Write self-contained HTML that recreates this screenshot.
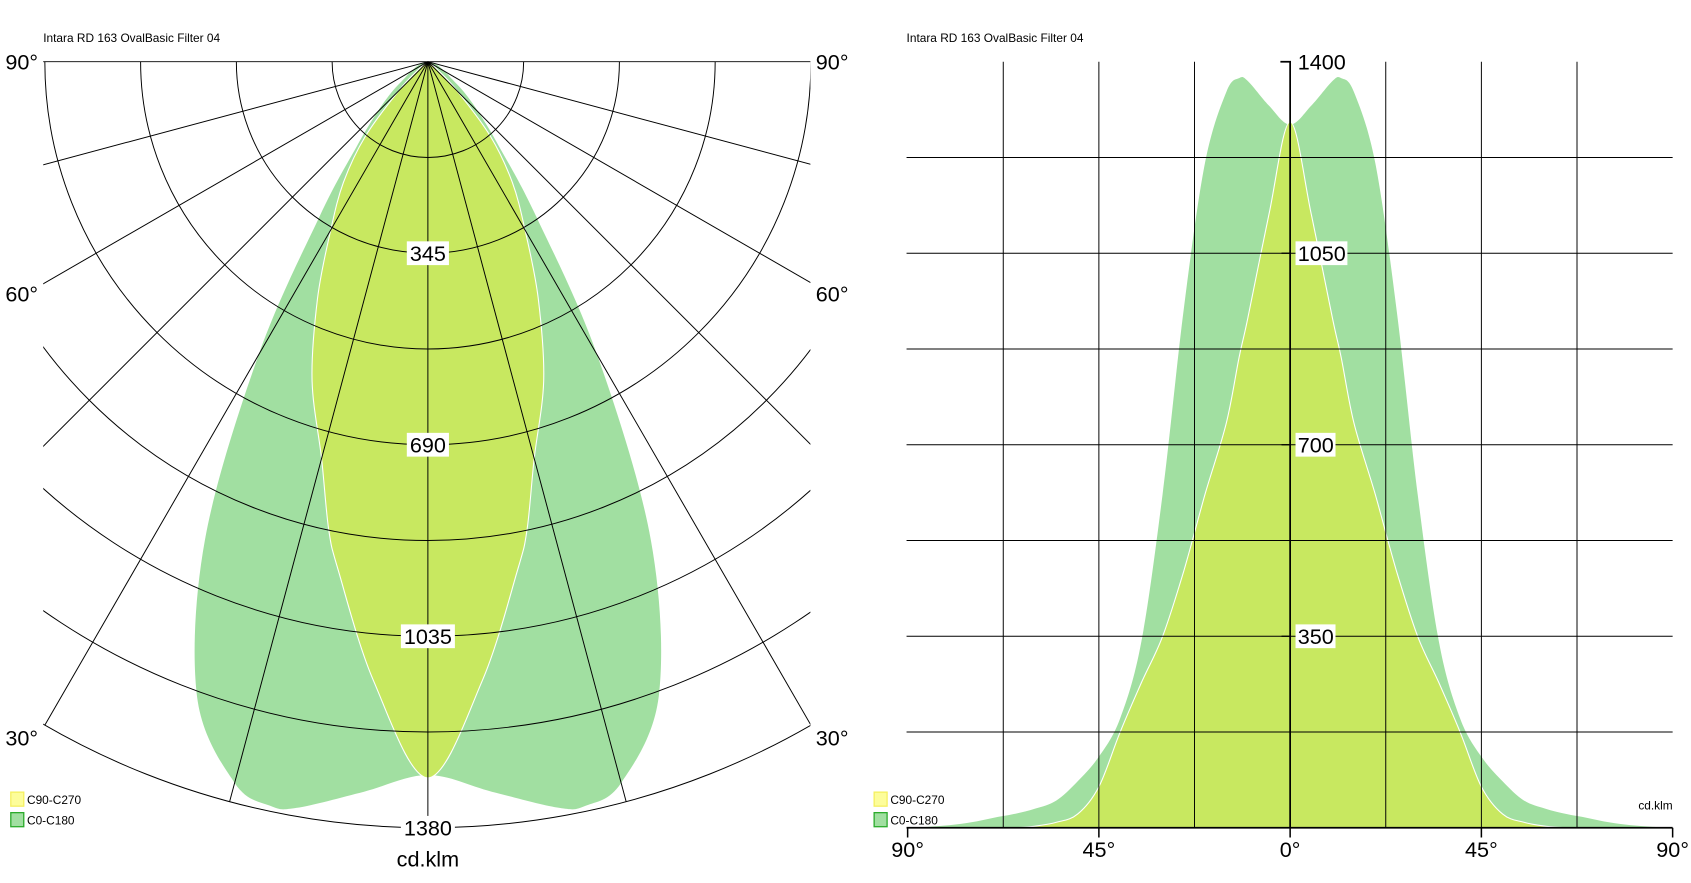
<!DOCTYPE html>
<html><head><meta charset="utf-8"><style>
html,body{margin:0;padding:0;background:#fff;}
svg{display:block;font-family:"Liberation Sans",sans-serif;}
</style></head><body>
<svg id="chart" width="1691" height="883" viewBox="0 0 1565 817" xmlns="http://www.w3.org/2000/svg">
<defs>
<clipPath id="pclip"><rect x="40" y="40" width="710" height="760"/></clipPath>
</defs>
<g id="polar"></g>
<g id="cart"></g>
</svg>
<script>
const angles=[0,5,10,12,15,20,25,30,35,40,45,50,55,60,65,70,75,80,85,90];
const c0c180=[1285,1320,1365,1370,1345,1216,950,610,340,200,130,85,50,35,25,18,10,5,2,0];
const c90c270=[1290,1120,930,860,740,610,470,350,265,175,75,25,10,3,0,0,0,0,0,0];
const polarRingLabels=["345","690","1035","1380"];
const polarRingValues=[345,690,1035,1380];
const cartYLabels=["1400","1050","700","350"];
const cartYValues=[1400,1050,700,350];
const cartXLabels=["90°","45°","0°","45°","90°"];
const cartXValues=[-90,-45,0,45,90];

const NS="http://www.w3.org/2000/svg";
function mk(parent,tag,attrs,text){const e=document.createElementNS(NS,tag);for(const k in attrs)e.setAttribute(k,attrs[k]);if(text!==undefined)e.textContent=text;parent.appendChild(e);return e;}
const GREEN="#a1dfa1",YEL="#c8e860";
function smooth(pts,closed){
  let d="M"+pts[0][0].toFixed(1)+","+pts[0][1].toFixed(1);
  const n=pts.length;
  for(let i=0;i<n-1;i++){
    const p0=pts[Math.max(0,i-1)],p1=pts[i],p2=pts[i+1],p3=pts[Math.min(n-1,i+2)];
    const c1=[p1[0]+(p2[0]-p0[0])/6,p1[1]+(p2[1]-p0[1])/6];
    const c2=[p2[0]-(p3[0]-p1[0])/6,p2[1]-(p3[1]-p1[1])/6];
    d+=`C${c1[0].toFixed(1)},${c1[1].toFixed(1)} ${c2[0].toFixed(1)},${c2[1].toFixed(1)} ${p2[0].toFixed(1)},${p2[1].toFixed(1)}`;
  }
  return d;
}

// ---------- polar ----------
const P=document.getElementById('polar');
const cx=396,cy=57,pscale=709/1380;
const pr=v=>v*pscale;
function polarPath(vals){
  let pts=[];
  for(let i=angles.length-1;i>=0;i--){const a=angles[i]*Math.PI/180,r=pr(vals[i]);pts.push([cx-r*Math.sin(a),cy+r*Math.cos(a)]);}
  for(let i=1;i<angles.length;i++){const a=angles[i]*Math.PI/180,r=pr(vals[i]);pts.push([cx+r*Math.sin(a),cy+r*Math.cos(a)]);}
  return smooth(pts)+"Z";
}
const pg=mk(P,'g',{'clip-path':'url(#pclip)'});
const g1=mk(pg,'path',{d:polarPath(c0c180),fill:GREEN});


const y1=mk(pg,'path',{d:polarPath(c90c270),fill:YEL,stroke:'#fff','stroke-width':1});


for(let k=1;k<=8;k++){
  const r=pr(1380*k/8);
  const c=mk(pg,'path',{d:`M${cx-r},${cy} A${r},${r} 0 0 0 ${cx+r},${cy}`,fill:'none',stroke:'#000','stroke-width':0.9});
  
  
}
for(let d=-90;d<=90;d+=15){
  const a=d*Math.PI/180,R=pr(1380);
  const l=mk(pg,'line',{x1:cx,y1:cy,x2:cx+R*Math.sin(a),y2:cy+R*Math.cos(a),stroke:'#000','stroke-width':0.9});
  
  
}
polarRingValues.forEach((v,i)=>{
  const y=cy+pr(v);
  const w=polarRingLabels[i].length*11+6;
  const b=mk(P,'rect',{x:cx-w/2,y:y-11,width:w,height:22,fill:'#fff'});
  
  
  const t=mk(P,'text',{x:cx,y:y+7,'font-size':20,'text-anchor':'middle',fill:'#000'},polarRingLabels[i]);
  
  
});
[["90°",57],["60°",272],["30°",683]].forEach(([s,y])=>{
  const a=mk(P,'text',{x:5,y:y+7,'font-size':20,fill:'#000'},s);
  
  
  const b=mk(P,'text',{x:755,y:y+7,'font-size':20,fill:'#000'},s);
  
  
});
const u1=mk(P,'text',{x:396,y:802,'font-size':20,'text-anchor':'middle'},"cd.klm");


const t1=mk(P,'text',{x:40,y:39,'font-size':11},"Intara RD 163 OvalBasic Filter 04");



function legend(parent,x,pref){
  const items=[["C90-C270","#fdfd9a","#f5f060",733],["C0-C180",GREEN,"#2bab2b",752]];
  items.forEach(([s,f,st,y])=>{
    const r=mk(parent,'rect',{x:x,y:y,width:12,height:13,fill:f,stroke:st,'stroke-width':1.2});
    
    
    const t=mk(parent,'text',{x:x+15,y:y+11,'font-size':11},s);
    
    
  });
}
legend(P,10,'polar');

// ---------- cartesian ----------
const C=document.getElementById('cart');
const x0=839,x1=1548,yb=766,yt=57;
const xs=a=>1194+a*(x1-1194)/90;
const ys=v=>yb-v*(yb-yt)/1400;
function cartPath(vals){
  let pts=[];
  for(let i=angles.length-1;i>=0;i--)pts.push([xs(-angles[i]),ys(vals[i])]);
  for(let i=1;i<angles.length;i++)pts.push([xs(angles[i]),ys(vals[i])]);
  return smooth(pts)+`L${xs(90)},${yb}L${xs(-90)},${yb}Z`;
}
const g2=mk(C,'path',{d:cartPath(c0c180),fill:GREEN});


const y2=mk(C,'path',{d:cartPath(c90c270),fill:YEL,stroke:'#fff','stroke-width':1});


for(let k=1;k<8;k++){
  const y=yb-k*(yb-yt)/8;
  const l=mk(C,'line',{x1:x0,y1:y,x2:x1,y2:y,stroke:'#000','stroke-width':0.9});
  
  
}
for(let a=-67.5;a<=67.5;a+=22.5){
  if(a===0)continue;
  const l=mk(C,'line',{x1:xs(a),y1:yt,x2:xs(a),y2:yb,stroke:'#000','stroke-width':0.9});
  
  
}
const ya=mk(C,'path',{d:`M1185,${yt}H1194V${yb}`,fill:'none',stroke:'#000','stroke-width':1.6});


const xa=mk(C,'line',{x1:x0,y1:yb,x2:x1,y2:yb,stroke:'#000','stroke-width':1.6});


cartYValues.forEach((v,i)=>{
  const y=ys(v);
  const w=cartYLabels[i].length*11+4;
  if(i>0){const b=mk(C,'rect',{x:1199,y:y-11,width:w,height:22,fill:'#fff'});
  
  
  const tk=mk(C,'line',{x1:1186,y1:y,x2:1194,y2:y,stroke:'#000','stroke-width':1.2});
  
  }
  const t=mk(C,'text',{x:1201,y:y+7,'font-size':20},cartYLabels[i]);
  
  
});
cartXValues.forEach((a,i)=>{
  const x=xs(a);
  const tk=mk(C,'line',{x1:x,y1:yb,x2:x,y2:yb+9,stroke:'#000','stroke-width':1.4});
  
  
  const t=mk(C,'text',{x:x,y:yb+27,'font-size':20,'text-anchor':'middle'},cartXLabels[i]);
  
  
});
const u2=mk(C,'text',{x:1548,y:749,'font-size':11,'text-anchor':'end'},"cd.klm");


const t2=mk(C,'text',{x:839,y:39,'font-size':11},"Intara RD 163 OvalBasic Filter 04");


legend(C,809,'cart');
</script>
</body></html>
